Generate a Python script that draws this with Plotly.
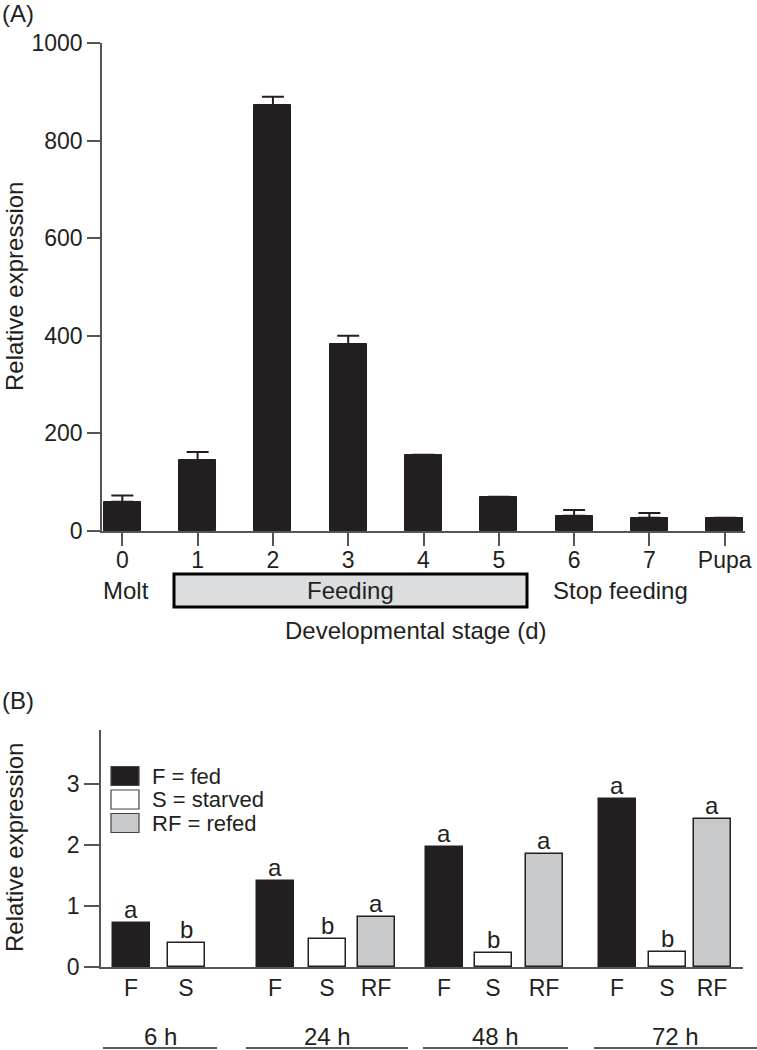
import plotly.graph_objects as go

# ---------------- data ----------------
stages = ["0", "1", "2", "3", "4", "5", "6", "7", "Pupa"]
expr_a = [60, 145, 873, 383, 156, 70, 31, 27, 27]
err_a = [13, 17, 17, 17, 0, 0, 12, 10, 0]

groups = ["6 h", "24 h", "48 h", "72 h"]
fed = [0.72, 1.41, 1.97, 2.75]
starved = [0.39, 0.46, 0.23, 0.25]
refed = [None, 0.82, 1.85, 2.43]
let_fed = ["a", "a", "a", "a"]
let_starved = ["b", "b", "b", "b"]
let_refed = [None, "a", "a", "a"]

# ---------------- layout helpers ----------------
W, H = 757, 1050
FONT = "Liberation Sans, Arial, sans-serif"
INK = "#231f20"
AX = "#555555"

def px(x):
    return x / W

def py(y):
    return 1 - y / H

# bar centres for panel B (layout positions)
pos_f = [0, 2.88, 6.26, 9.72]
pos_s = [1.1, 3.92, 7.24, 10.72]
pos_rf = [None, 4.9, 8.26, 11.62]

fig = go.Figure()

# Panel A
fig.add_trace(go.Bar(
    x=list(range(len(stages))), y=expr_a, width=0.49,
    marker=dict(color=INK, line=dict(color=INK, width=1)),
    error_y=dict(type="data", symmetric=False, array=err_a,
                 arrayminus=[0] * len(err_a), color=INK, thickness=2, width=11),
    xaxis="x", yaxis="y", showlegend=False,
))

# Panel B
def bx(pos, vals):
    xs, ys = [], []
    for p, v in zip(pos, vals):
        if v is not None:
            xs.append(p)
            ys.append(v)
    return xs, ys

for pos, vals, col in [(pos_f, fed, INK), (pos_s, starved, "white"), (pos_rf, refed, "#c8c9cb")]:
    xs, ys = bx(pos, vals)
    fig.add_trace(go.Bar(
        x=xs, y=ys, width=0.74,
        marker=dict(color=col, line=dict(color=INK, width=1.5)),
        xaxis="x2", yaxis="y2", showlegend=False,
    ))

tick_pos_b, tick_txt_b = [], []
for p, t in [(pos_f, "F"), (pos_s, "S"), (pos_rf, "RF")]:
    for v in p:
        if v is not None:
            tick_pos_b.append(v)
            tick_txt_b.append(t)

ann = []
# significance letters
for pos, vals, lets in [(pos_f, fed, let_fed), (pos_s, starved, let_starved), (pos_rf, refed, let_refed)]:
    for p, v, l in zip(pos, vals, lets):
        if v is None or l is None:
            continue
        ann.append(dict(x=p, y=v, xref="x2", yref="y2", text=l, showarrow=False,
                        yanchor="bottom", yshift=-2, font=dict(size=24, color=INK, family=FONT)))

def txt(x, y, s, size=24, xanchor="center", yanchor="middle", angle=0):
    ann.append(dict(x=px(x), y=py(y), xref="paper", yref="paper", text=s, showarrow=False,
                    xanchor=xanchor, yanchor=yanchor, textangle=angle,
                    font=dict(size=size, color=INK, family=FONT)))

txt(0, 14, "(A)", xanchor="left")
txt(0, 700, "(B)", xanchor="left")
txt(14, 287, "Relative expression", angle=-90)
txt(14, 848, "Relative expression", angle=-90)
txt(126, 590, "Molt")
txt(350, 590, "Feeding")
txt(620, 590, "Stop feeding")
txt(415, 630, "Developmental stage (d)")

# legend
leg = [("F = fed", INK), ("S = starved", "white"), ("RF = refed", "#c8c9cb")]
shapes = []
for i, (lab, col) in enumerate(leg):
    yc = 776 + i * 23.5
    shapes.append(dict(type="rect", xref="paper", yref="paper",
                       x0=px(111), x1=px(139), y0=py(yc + 9.5), y1=py(yc - 9.5),
                       fillcolor=col, line=dict(color="#444", width=1.2)))
    txt(150, yc, lab, size=22, xanchor="left")

# feeding box
shapes.append(dict(type="rect", xref="paper", yref="paper",
                   x0=px(174), x1=px(527), y0=py(607), y1=py(574),
                   fillcolor="#dcdddf", line=dict(color="black", width=3), layer="below"))

# group labels and lines
spans = [(103, 217), (246, 408), (423, 568), (594, 757)]
for g, (a, b) in zip(groups, spans):
    txt((a + b) / 2, 1036, g)
    shapes.append(dict(type="line", xref="paper", yref="paper",
                       x0=px(a), x1=px(b), y0=py(1048), y1=py(1048),
                       line=dict(color=INK, width=1.5)))

axis_common = dict(showgrid=False, zeroline=False, showline=True, linecolor=AX, linewidth=1.5,
                   automargin=False, tickfont=dict(size=23, color=INK, family=FONT))

fig.update_layout(
    width=W, height=H, autosize=False,
    margin=dict(l=0, r=0, t=0, b=0, pad=0, autoexpand=False),
    paper_bgcolor="white", plot_bgcolor="white",
    font=dict(family=FONT, color=INK),
    xaxis=dict(domain=[px(102), px(745)], range=[-0.27, 8.27], anchor="y",
               tickvals=list(range(len(stages))), ticktext=stages,
               ticks="outside", ticklen=13, tickcolor=AX, tickwidth=1.5,
               ticklabelstandoff=-5, **axis_common),
    yaxis=dict(domain=[py(531), py(43)], range=[0, 1000], anchor="x",
               tickvals=[0, 200, 400, 600, 800, 1000],
               ticks="outside", ticklen=13, tickcolor=AX, tickwidth=1.5, **axis_common),
    xaxis2=dict(domain=[px(101), px(743)], range=[-0.6, 12.24], anchor="y2",
                tickvals=tick_pos_b, ticktext=tick_txt_b, ticks="", **axis_common),
    yaxis2=dict(domain=[py(967), py(730)], range=[0, 3.88], anchor="x2",
                tickvals=[0, 1, 2, 3],
                ticks="outside", ticklen=15, tickcolor=AX, tickwidth=1.5, **axis_common),
    annotations=ann, shapes=shapes, bargap=0,
)

fig.write_html("out.html", config={"displayModeBar": False},
               post_script="document.body.style.margin='0';document.body.style.overflow='hidden';")
